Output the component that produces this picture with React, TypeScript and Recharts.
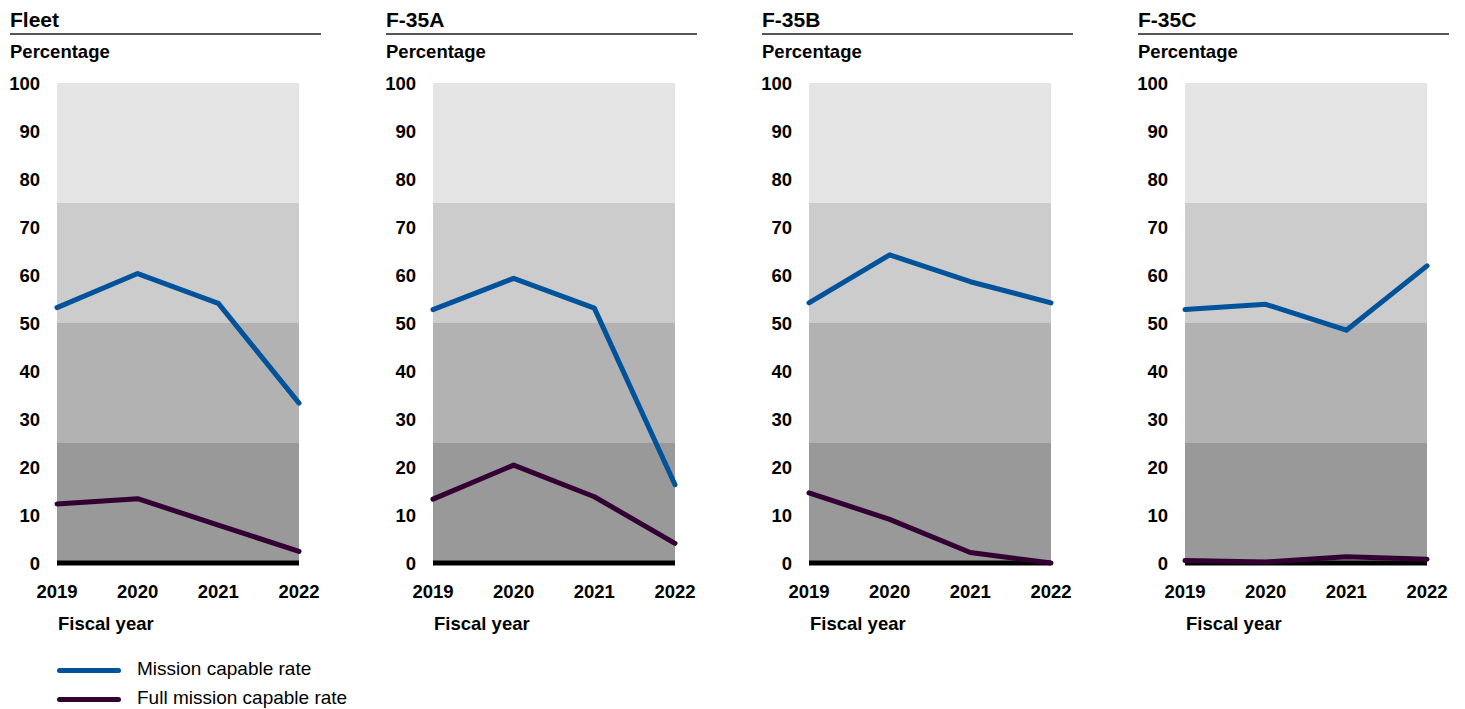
import React from "react";
import { LineChart, Line, XAxis, YAxis, ReferenceArea, ReferenceLine } from "recharts";

const years = [2019, 2020, 2021, 2022];
const panelTitles = ["Fleet", "F-35A", "F-35B", "F-35C"];
const missionCapable = [
  [53.2, 60.3, 54.1, 33.3],
  [52.8, 59.3, 53.1, 16.3],
  [54.2, 64.2, 58.6, 54.2],
  [52.8, 53.9, 48.5, 61.9],
];
const fullMissionCapable = [
  [12.3, 13.4, 7.9, 2.4],
  [13.3, 20.4, 13.8, 4.1],
  [14.6, 9.1, 2.2, 0],
  [0.5, 0.2, 1.3, 0.8],
];
const yTicks = [0, 10, 20, 30, 40, 50, 60, 70, 80, 90, 100];
const bands = [
  { from: 0, to: 25, color: "#999999" },
  { from: 25, to: 50, color: "#b2b2b2" },
  { from: 50, to: 75, color: "#cccccc" },
  { from: 75, to: 100, color: "#e5e5e5" },
];
const seriesNames = ["Mission capable rate", "Full mission capable rate"];
const seriesColors = ["#00529b", "#330033"];

const FONT = "'Liberation Sans', Arial, Helvetica, sans-serif";
const PANEL_X0 = 10;
const PANEL_STEP = 376;

function Panel({ index }: { index: number }) {
  const data = years.map((y, i) => ({
    year: y,
    mc: missionCapable[index][i],
    fmc: fullMissionCapable[index][i],
  }));
  const left = PANEL_X0 + index * PANEL_STEP;
  return (
    <div style={{ position: "absolute", left, top: 70 }}>
      <LineChart
        width={320}
        height={533}
        data={data}
        margin={{ top: 13, right: 31, bottom: 0, left: 0 }}
      >
        <XAxis
          dataKey="year"
          type="number"
          domain={[2019, 2022]}
          ticks={years}
          axisLine={false}
          tickLine={false}
          tickSize={0}
          tickMargin={22}
          height={40}
          interval={0}
          tick={{ fill: "#000", fontSize: 18.5, fontWeight: "bold", fontFamily: FONT }}
        />
        <YAxis
          domain={[0, 100]}
          ticks={yTicks}
          axisLine={false}
          tickLine={false}
          tickSize={0}
          tickMargin={17}
          width={47}
          interval={0}
          tick={{ fill: "#000", fontSize: 18.5, fontWeight: "bold", fontFamily: FONT }}
        />
        {bands.map((b) => (
          <ReferenceArea
            key={b.from}
            y1={b.from}
            y2={b.to}
            fill={b.color}
            fillOpacity={1}
            stroke="none"
            ifOverflow="hidden"
          />
        ))}
        <ReferenceLine y={0} stroke="#000" strokeWidth={5} />
        <Line
          dataKey="mc"
          stroke={seriesColors[0]}
          strokeWidth={5}
          dot={false}
          activeDot={false}
          strokeLinejoin="round"
          strokeLinecap="round"
          isAnimationActive={false}
        />
        <Line
          dataKey="fmc"
          stroke={seriesColors[1]}
          strokeWidth={5}
          dot={false}
          activeDot={false}
          strokeLinejoin="round"
          strokeLinecap="round"
          isAnimationActive={false}
        />
      </LineChart>
    </div>
  );
}

export default function App() {
  return (
    <div
      style={{
        position: "absolute",
        left: 0,
        top: 0,
        width: 1465,
        height: 709,
        background: "#fff",
        fontFamily: FONT,
      }}
    >
      <svg
        width={1465}
        height={709}
        style={{ position: "absolute", left: 0, top: 0 }}
      >
        {panelTitles.map((t, i) => {
          const x = PANEL_X0 + i * PANEL_STEP;
          return (
            <g key={t}>
              <text x={x} y={27} fontSize={21} fontWeight="bold" fill="#000" fontFamily={FONT}>
                {t}
              </text>
              <line x1={x} x2={x + 311} y1={34} y2={34} stroke="#555" strokeWidth={2} />
              <text x={x} y={58} fontSize={18.5} fontWeight="bold" fill="#000" fontFamily={FONT}>
                Percentage
              </text>
              <text x={x + 48} y={630} fontSize={18.5} fontWeight="bold" fill="#000" fontFamily={FONT}>
                Fiscal year
              </text>
            </g>
          );
        })}
        {seriesNames.map((n, i) => (
          <g key={n}>
            <line
              x1={59.5}
              x2={118.5}
              y1={670.5 + i * 29}
              y2={670.5 + i * 29}
              stroke={seriesColors[i]}
              strokeWidth={5}
              strokeLinecap="round"
            />
            <text x={137} y={675 + i * 29} fontSize={19} fill="#000" fontFamily={FONT}>
              {n}
            </text>
          </g>
        ))}
      </svg>
      {panelTitles.map((t, i) => (
        <Panel key={t} index={i} />
      ))}
    </div>
  );
}
